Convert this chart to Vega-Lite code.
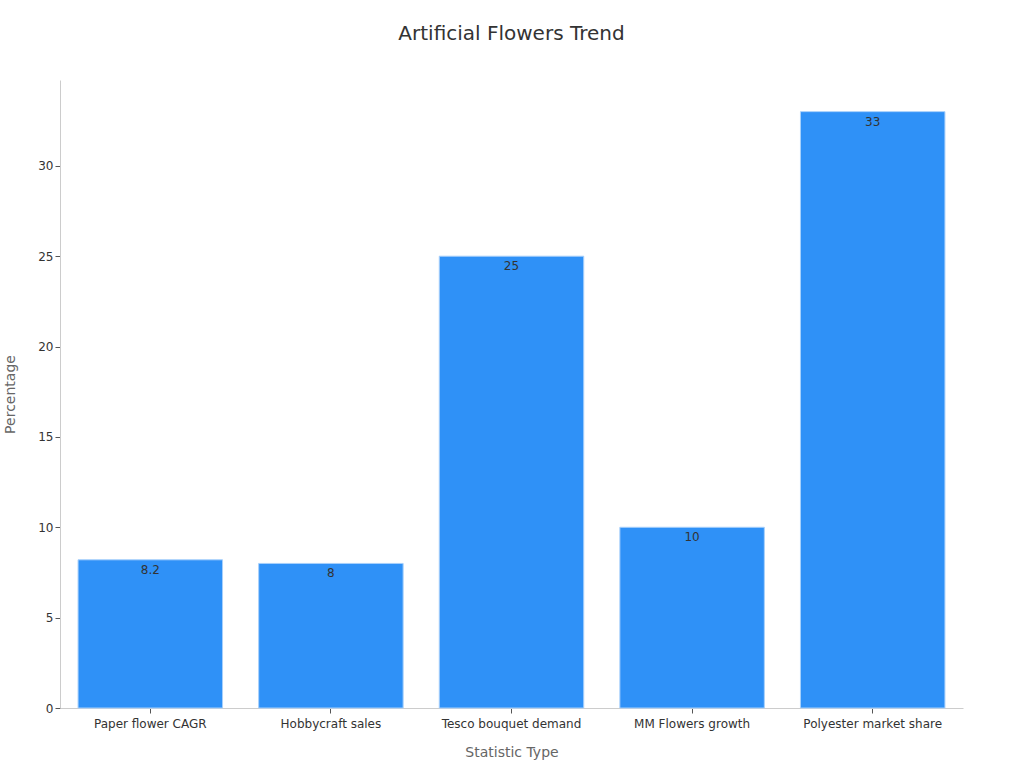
{
  "$schema": "https://vega.github.io/schema/vega-lite/v6.json",
  "width": 903,
  "height": 628,
  "autosize": {"type": "none"},
  "padding": {"left": 60, "top": 80, "right": 61, "bottom": 60},
  "background": "white",
  "title": {
    "text": "Artificial Flowers Trend",
    "font": "DejaVu Sans",
    "fontSize": 20,
    "fontWeight": "normal",
    "color": "#333333",
    "offset": 36,
    "anchor": "middle"
  },
  "config": {
    "view": {"stroke": null},
    "font": "DejaVu Sans"
  },
  "data": {
    "values": [
      {"type": "Paper flower CAGR", "value": 8.2},
      {"type": "Hobbycraft sales", "value": 8},
      {"type": "Tesco bouquet demand", "value": 25},
      {"type": "MM Flowers growth", "value": 10},
      {"type": "Polyester market share", "value": 33}
    ]
  },
  "encoding": {
    "x": {
      "field": "type",
      "type": "nominal",
      "sort": null,
      "title": "Statistic Type",
      "scale": {"paddingInner": 0.2, "paddingOuter": 0.1},
      "axis": {
        "labelAngle": 0,
        "labelFontSize": 12,
        "labelColor": "#333333",
        "titleFontSize": 14,
        "titleFontWeight": "normal",
        "titleColor": "#666666",
        "titlePadding": 16,
        "domainColor": "#cccccc",
        "tickColor": "#555555",
        "labelPadding": 5
      }
    },
    "y": {
      "field": "value",
      "type": "quantitative",
      "title": "Percentage",
      "scale": {"domain": [0, 34.75], "nice": false},
      "axis": {
        "values": [0, 5, 10, 15, 20, 25, 30],
        "grid": false,
        "labelFontSize": 12,
        "labelColor": "#333333",
        "titleFontSize": 14,
        "titleFontWeight": "normal",
        "titleColor": "#666666",
        "titlePadding": 20,
        "domainColor": "#cccccc",
        "tickColor": "#555555"
      }
    }
  },
  "layer": [
    {
      "mark": {"type": "bar", "color": "#2f91f7", "stroke": "#a8d0fb", "strokeWidth": 1}
    },
    {
      "mark": {"type": "text", "baseline": "top", "dy": 5, "fontSize": 12, "color": "#333333"},
      "encoding": {"text": {"field": "value", "type": "quantitative"}}
    }
  ]
}
